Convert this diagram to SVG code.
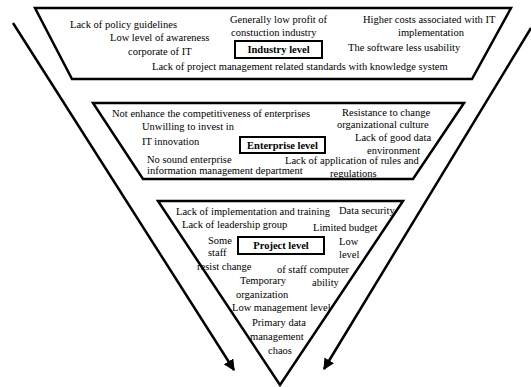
<svg xmlns="http://www.w3.org/2000/svg" width="531" height="387" viewBox="0 0 531 387">
<style>
.shape{fill:#fff;stroke:#000;stroke-width:2.5;stroke-linejoin:miter}
.box{fill:#fff;stroke:#000;stroke-width:2}
text{font-family:"Liberation Serif","Times New Roman",serif;font-size:10.5px;fill:#000}
.lbl{font-weight:bold;text-anchor:middle}
.conn{fill:none;stroke:#000;stroke-width:2.5}
</style>
<defs>
<marker id="ah" viewBox="0 0 10 10" refX="9" refY="5" markerWidth="4.5" markerHeight="4.5" orient="auto" markerUnits="strokeWidth">
<path d="M0,0 L10,5 L0,10 z" fill="#000"/>
</marker>
</defs>
<rect width="531" height="387" fill="#fff"/>
<g id="connectors">
<line class="conn" x1="13" y1="23" x2="234" y2="370" marker-end="url(#ah)"/>
<line class="conn" x1="531" y1="28" x2="324" y2="369" marker-end="url(#ah)"/>
</g>
<g id="industry">
<polygon class="shape" points="35,8 511,8 472,79 72,79"/>
<text x="70" y="28">Lack of policy guidelines</text>
<text x="110" y="41">Low level of awareness</text>
<text x="128" y="55">corporate of IT</text>
<text x="230" y="23">Generally low profit of</text>
<text x="231" y="36">constuction industry</text>
<rect class="box" x="235" y="41" width="87" height="17"/>
<text class="lbl" x="278.5" y="53">Industry level</text>
<text x="363" y="23">Higher costs associated with IT</text>
<text x="398" y="36">implementation</text>
<text x="348" y="51">The software less usability</text>
<text x="152" y="70">Lack of project management related standards with knowledge system</text>
</g>
<g id="enterprise">
<polygon class="shape" points="93,103 464,103 413,179 143,179"/>
<text x="112" y="117">Not enhance the competitiveness of enterprises</text>
<text x="342" y="116">Resistance to change</text>
<text x="142" y="130">Unwilling to invest in</text>
<text x="337" y="128">organizational culture</text>
<text x="142" y="145">IT innovation</text>
<rect class="box" x="240" y="137" width="85" height="16"/>
<text class="lbl" x="282.5" y="149">Enterprise level</text>
<text x="355" y="141">Lack of good data</text>
<text x="367" y="154">environment</text>
<text x="147" y="163">No sound enterprise</text>
<text x="285" y="164">Lack of application of rules and</text>
<text x="147" y="174">information management department</text>
<text x="330" y="177">regulations</text>
</g>
<g id="project">
<polygon class="shape" points="158,201 403,201 280,385"/>
<text x="176" y="215">Lack of implementation and training</text>
<text x="339" y="214">Data security</text>
<text x="182" y="228">Lack of leadership group</text>
<text x="313" y="231">Limited budget</text>
<text x="208" y="244">Some</text>
<text x="208" y="256">staff</text>
<rect class="box" x="238" y="237" width="86" height="17"/>
<text class="lbl" x="281" y="249">Project level</text>
<text x="339" y="245">Low</text>
<text x="339" y="258">level</text>
<text x="197" y="270">resist change</text>
<text x="277" y="273">of staff computer</text>
<text x="240" y="284">Temporary</text>
<text x="312" y="286">ability</text>
<text x="236" y="298">organization</text>
<text x="232" y="311">Low management level</text>
<text x="252" y="326">Primary data</text>
<text x="250" y="340">management</text>
<text x="268" y="354">chaos</text>
</g>
</svg>
